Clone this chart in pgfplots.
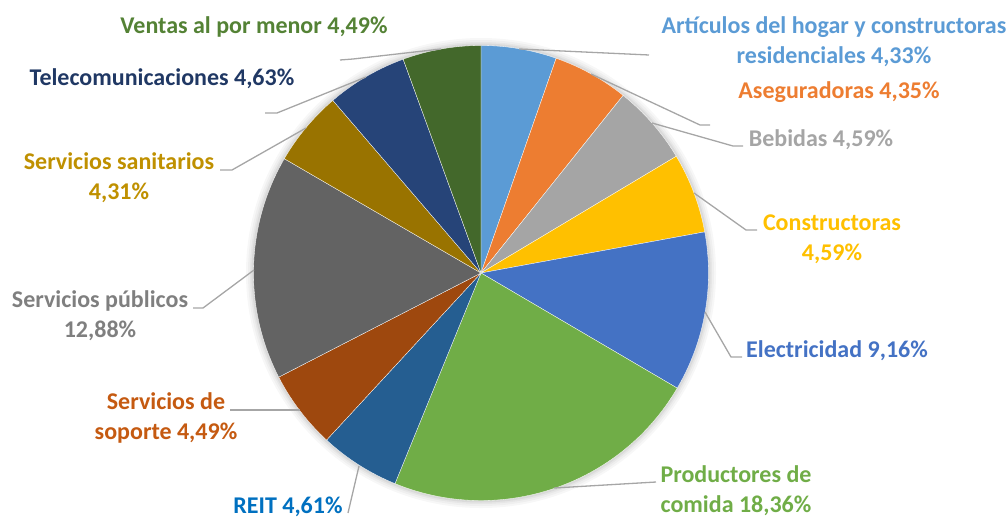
\documentclass[border=0pt]{standalone}
\usepackage{pgfplots}
\usepackage{pgfplotstable}
\pgfplotsset{compat=1.18}
\usepackage{fontspec}
\setmainfont{Carlito}
\definecolor{s1}{HTML}{5B9BD5}
\definecolor{s2}{HTML}{ED7D31}
\definecolor{s3}{HTML}{A5A5A5}
\definecolor{s4}{HTML}{FFC000}
\definecolor{s5}{HTML}{4472C4}
\definecolor{s6}{HTML}{70AD47}
\definecolor{s7}{HTML}{255E91}
\definecolor{s8}{HTML}{9E480E}
\definecolor{s9}{HTML}{636363}
\definecolor{s10}{HTML}{997300}
\definecolor{s11}{HTML}{264478}
\definecolor{s12}{HTML}{43682B}
\definecolor{t7}{HTML}{0070C0}
\definecolor{t8}{HTML}{C55A11}
\definecolor{t9}{HTML}{7F7F7F}
\definecolor{t10}{HTML}{BF9000}
\definecolor{t11}{HTML}{203864}
\definecolor{t12}{HTML}{548235}
\definecolor{lead}{HTML}{A6A6A6}

\pgfplotstableread{
value color
4.33 s1
4.35 s2
4.59 s3
4.59 s4
9.16 s5
18.36 s6
4.61 s7
4.49 s8
12.88 s9
4.31 s10
4.63 s11
4.49 s12
}\piedata

\def\cx{481}
\def\cy{273}
\def\R{227.5}
\def\total{80.79}

\begin{document}
\begin{tikzpicture}
\begin{axis}[width=1008bp,height=518bp,scale only axis,
  xmin=0,xmax=1008,ymin=0,ymax=518,y dir=reverse,
  hide axis,clip=false]
\path (axis cs:0,0) rectangle (axis cs:1008,518);
% soft shadow
\fill[black,opacity=0.03] (axis cs:\cx,\cy) circle[radius=235bp];
\fill[black,opacity=0.03] (axis cs:\cx,\cy) circle[radius=233bp];
\fill[black,opacity=0.04] (axis cs:\cx,\cy) circle[radius=231bp];
\fill[black,opacity=0.05] (axis cs:\cx,\cy) circle[radius=229.5bp];
% slices
\xdef\cum{0}
\foreach \i in {0,...,11}{
  \pgfplotstablegetelem{\i}{value}\of\piedata
  \let\v\pgfplotsretval
  \pgfplotstablegetelem{\i}{color}\of\piedata
  \let\col\pgfplotsretval
  \pgfmathsetmacro\a{90-\cum/\total*360}
  \pgfmathsetmacro\b{90-(\cum+\v)/\total*360}
  \pgfmathsetmacro\xa{\cx+\R*cos(\a)}
  \pgfmathsetmacro\ya{\cy-\R*sin(\a)}
  \edef\tmp{\noexpand\fill[\col,draw=white,line width=0.3pt] (axis cs:\cx,\cy) -- (axis cs:\xa,\ya) arc[start angle=\a,end angle=\b,radius=\R bp] -- cycle;}
  \tmp
  \pgfmathsetmacro\n{\cum+\v}
  \xdef\cum{\n}
}
% leader lines
\begin{scope}[lead,line width=1.3bp]
\draw (axis cs:519,49) -- (axis cs:649,55);
\draw (axis cs:591,74) -- (axis cs:700,125) -- (axis cs:710,125);
\draw (axis cs:652,123) -- (axis cs:733,146) -- (axis cs:743,146);
\draw (axis cs:694,193) -- (axis cs:746,230) -- (axis cs:757,230);
\draw (axis cs:705,312) -- (axis cs:731,357) -- (axis cs:742,357);
\draw (axis cs:554,488) -- (axis cs:656,482);
\draw (axis cs:359,466) -- (axis cs:348,513);
\draw (axis cs:300,410) -- (axis cs:230,410);
\draw (axis cs:254,270) -- (axis cs:203,308) -- (axis cs:193,308);
\draw (axis cs:306,128) -- (axis cs:232,170) -- (axis cs:220,170);
\draw (axis cs:366,77) -- (axis cs:277,113) -- (axis cs:265,113);
\draw (axis cs:441,49) -- (axis cs:353,59) -- (axis cs:340,60);
\end{scope}
% labels
\begin{scope}[every node/.style={font=\fontsize{24bp}{30bp}\selectfont\bfseries,align=center,inner sep=0pt}]
\node[text=s1] at (axis cs:834,42) {Artículos del hogar y constructoras\\residenciales 4,33\%};
\node[text=s2] at (axis cs:839,92) {Aseguradoras 4,35\%};
\node[text=s3] at (axis cs:821,140) {Bebidas 4,59\%};
\node[text=s4] at (axis cs:832,239) {Constructoras\\4,59\%};
\node[text=s5] at (axis cs:837,351) {Electricidad 9,16\%};
\node[text=s6] at (axis cs:736,491) {Productores de\\comida 18,36\%};
\node[text=t7] at (axis cs:288,507) {REIT 4,61\%};
\node[text=t8] at (axis cs:166,418) {Servicios de\\soporte 4,49\%};
\node[text=t9] at (axis cs:100,316) {Servicios públicos\\12,88\%};
\node[text=t10] at (axis cs:119,178) {Servicios sanitarios\\4,31\%};
\node[text=t11] at (axis cs:162,79) {Telecomunicaciones 4,63\%};
\node[text=t12] at (axis cs:254,27) {Ventas al por menor 4,49\%};
\end{scope}
\end{axis}
\end{tikzpicture}
\end{document}
